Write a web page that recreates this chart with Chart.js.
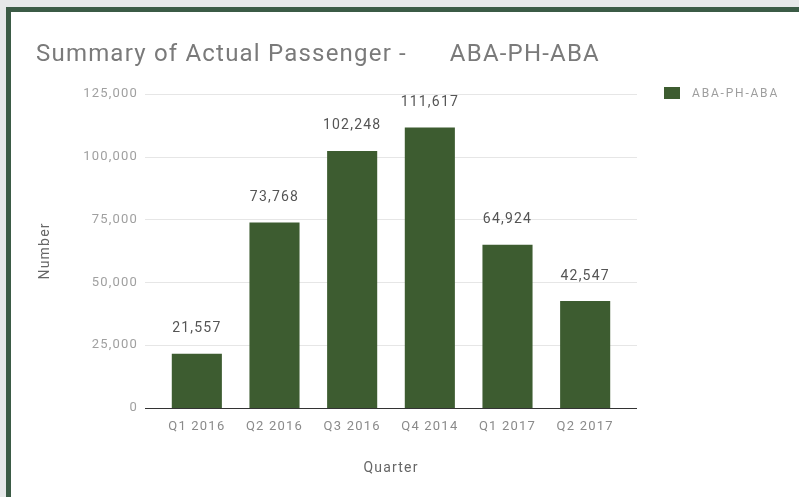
<!DOCTYPE html>
<html>
<head>
<meta charset="utf-8">
<script src="https://cdn.jsdelivr.net/npm/chart.js@4.4.0/dist/chart.umd.min.js"></script>
<style>
    body { margin: 0; background: #e6e8e9; width: 799px; height: 497px; overflow: hidden; position: relative; font-family: Roboto, sans-serif; }
    #frame { position: absolute; left: 6px; top: 7px; right: -10px; bottom: -10px; background: #fff; border-left: 5px solid #3b5b46; border-top: 5px solid #3b5b46; }
    #chart { position: absolute; left: 0; top: 0; }
    #legend { position: absolute; left: 664px; top: 86px; display: flex; align-items: center; font-size: 12px; letter-spacing: 1.8px; color: #9e9e9e; }
    #legend .box { width: 16px; height: 12px; margin-right: 12px; }
</style>
</head>
<body>
<div id="frame"></div>
<canvas id="chart" width="799" height="497"></canvas>
<div id="legend"></div>
<script>
const quarters = ['Q1 2016', 'Q2 2016', 'Q3 2016', 'Q4 2014', 'Q1 2017', 'Q2 2017'];
const passengers = [21557, 73768, 102248, 111617, 64924, 42547];
const seriesName = 'ABA-PH-ABA';
const barColor = '#3d5c30';

const fmt = v => Number(v).toLocaleString('en-US');

// the original text looks stretched, so widen it a little
// (canvas resize wipes the context state, so set it again before layout and draw)
const wideText = {
    id: 'wideText',
    beforeUpdate(chart) { chart.ctx.letterSpacing = '1.2px'; },
    beforeDraw(chart) { chart.ctx.letterSpacing = '1.2px'; }
};

// gridlines drawn a bit wider than the bars area, like the original
const gridPlugin = {
    id: 'wideGrid',
    beforeDatasetsDraw(chart) {
        const { ctx, chartArea, scales: { y } } = chart;
        ctx.save();
        y.ticks.forEach(t => {
            const py = Math.round(y.getPixelForValue(t.value)) + 0.5;
            ctx.strokeStyle = t.value === 0 ? '#333333' : '#e6e6e6';
            ctx.lineWidth = 1;
            ctx.beginPath();
            ctx.moveTo(chartArea.left - 13, py);
            ctx.lineTo(chartArea.right + 13, py);
            ctx.stroke();
        });
        ctx.restore();
    }
};

const valueLabels = {
    id: 'valueLabels',
    afterDatasetsDraw(chart) {
        const { ctx } = chart;
        const meta = chart.getDatasetMeta(0);
        ctx.save();
        ctx.font = '14px Roboto';
        ctx.fillStyle = '#555555';
        ctx.textAlign = 'center';
        ctx.textBaseline = 'middle';
        meta.data.forEach((bar, i) => {
            ctx.fillText(fmt(passengers[i]), bar.x, bar.y - 25);
        });
        ctx.restore();
    }
};

const chart = new Chart(document.getElementById('chart'), {
    type: 'bar',
    data: {
        labels: quarters,
        datasets: [{
            label: seriesName,
            data: passengers,
            backgroundColor: barColor,
            categoryPercentage: 1,
            barPercentage: 0.645
        }]
    },
    options: {
        responsive: false,
        animation: false,
        layout: { padding: { left: 36, right: 175, top: 0, bottom: 0 } },
        plugins: {
            legend: { display: false },
            tooltip: { enabled: false },
            title: {
                display: true,
                text: 'Summary of Actual Passenger -      ABA-PH-ABA',
                align: 'start',
                color: '#7a7a7a',
                font: { family: 'Roboto', size: 24, weight: 'normal' },
                padding: { top: 41, bottom: 24 }
            }
        },
        scales: {
            x: {
                grid: { display: false, drawTicks: false },
                border: { display: false },
                ticks: { color: '#8a8a8a', font: { family: 'Roboto', size: 13 }, padding: 11, maxRotation: 0 },
                title: { display: true, text: 'Quarter', color: '#666666', font: { family: 'Roboto', size: 14 }, padding: { top: 4, bottom: 20 } },
                afterFit(scale) { scale.height = 89; }
            },
            y: {
                min: 0,
                max: 125000,
                grid: { display: false, drawTicks: false },
                border: { display: false },
                ticks: { stepSize: 25000, color: '#a0a0a0', font: { family: 'Roboto', size: 13 }, padding: 20, callback: v => fmt(v) },
                title: { display: true, text: 'Number', color: '#666666', font: { family: 'Roboto', size: 14 }, padding: { top: 1, bottom: 0 } },
                afterFit(scale) { scale.width = 122; }
            }
        }
    },
    plugins: [wideText, gridPlugin, valueLabels]
});

// legend built from the dataset
const legend = document.getElementById('legend');
chart.data.datasets.forEach(ds => {
    legend.innerHTML += `<span class="box" style="background:${ds.backgroundColor}"></span><span>${ds.label}</span>`;
});
</script>
</body>
</html>
